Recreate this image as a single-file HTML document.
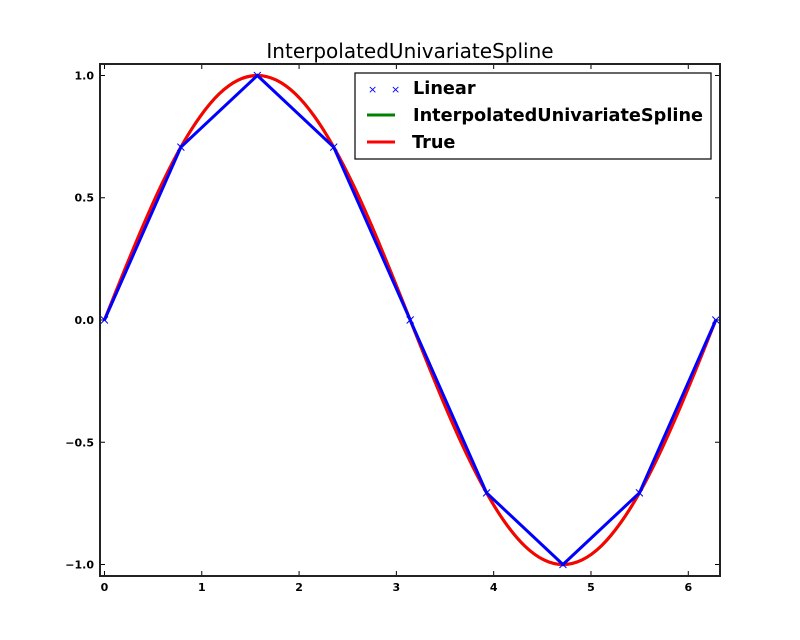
<!DOCTYPE html>
<html><head><meta charset="utf-8"><style>
body{margin:0;background:#fff;}
svg{display:block;font-family:"DejaVu Sans","Liberation Sans",sans-serif;}
</style></head><body>
<svg id="chart" width="800" height="640" xmlns="http://www.w3.org/2000/svg">
<rect width="800" height="640" fill="#fff"/>
<text x="410" y="58" text-anchor="middle" font-size="20">InterpolatedUnivariateSpline</text>
<g id="ticks"></g>
<g id="marks"></g>
<rect x="100" y="64" width="620" height="512" fill="none" stroke="#222" stroke-width="2"/>
<g>
<rect x="355" y="73" width="356" height="86" fill="#fff" stroke="#000" stroke-width="1.2"/>
<g>
<text x="368" y="93" font-size="11" fill="#00f">×</text><text x="391" y="93" font-size="11" fill="#00f">×</text>
<text x="413" y="94" font-size="17.7" font-weight="bold">Linear</text></g>
<g>
<line x1="367" y1="115" x2="395" y2="115" stroke="#008000" stroke-width="3"/>
<text x="413" y="121" font-size="17.7" font-weight="bold">InterpolatedUnivariateSpline</text></g>
<g>
<line x1="367" y1="142" x2="395" y2="142" stroke="#f00" stroke-width="3"/>
<text x="412" y="148" font-size="17.7" font-weight="bold">True</text></g>
</g>
</svg>
<script>
const linX=[0,0.785,1.571,2.356,3.142,3.927,4.712,5.498,6.283];
const linY=[0,0.707,1,0.707,0,-0.707,-1,-0.707,0];
const curveX=[0,0.196,0.393,0.589,0.785,0.982,1.178,1.374,1.571,1.767,1.963,2.160,2.356,2.553,2.749,2.945,3.142,3.338,3.534,3.731,3.927,4.123,4.320,4.516,4.712,4.909,5.105,5.301,5.498,5.694,5.890,6.087,6.283];
const trueY=[0,0.195,0.383,0.556,0.707,0.831,0.924,0.981,1,0.981,0.924,0.831,0.707,0.556,0.383,0.195,0,-0.195,-0.383,-0.556,-0.707,-0.831,-0.924,-0.981,-1,-0.981,-0.924,-0.831,-0.707,-0.556,-0.383,-0.195,0];
const splineY=[0,0.192,0.381,0.555,0.707,0.832,0.925,0.981,1,0.981,0.925,0.832,0.707,0.556,0.383,0.195,0,-0.195,-0.383,-0.556,-0.707,-0.832,-0.925,-0.981,-1,-0.981,-0.925,-0.832,-0.707,-0.555,-0.381,-0.192,0];
const xTicks=[0,1,2,3,4,5,6];
const yTicks=[1.0,0.5,0.0,-0.5,-1.0];
const yTickLabels=["1.0","0.5","0.0","\u22120.5","\u22121.0"];
const X0=100,X1=720,Y0=64,Y1=576,xmin=-0.046,xmax=6.326,ymin=-1.047,ymax=1.047;
const sx=v=>X0+(v-xmin)/(xmax-xmin)*(X1-X0);
const sy=v=>Y1-(v-ymin)/(ymax-ymin)*(Y1-Y0);
const NS="http://www.w3.org/2000/svg";
function mk(t,a,p){const e=document.createElementNS(NS,t);for(const k in a)e.setAttribute(k,a[k]);p.appendChild(e);return e;}
const tg=document.getElementById('ticks'),mg=document.getElementById('marks');
xTicks.forEach(v=>{const x=sx(v);
 const l=mk('path',{d:`M${x},${Y1}v-5M${x},${Y0}v5`,stroke:'#000','stroke-width':1},tg);
 
 
 const t=mk('text',{x:x,y:Y1+15,'text-anchor':'middle','font-size':11,'font-weight':'bold'},tg);t.textContent=String(v);
 
 });
yTicks.forEach((v,i)=>{const y=sy(v);
 const l=mk('path',{d:`M${X0},${y}h5M${X1},${y}h-5`,stroke:'#000','stroke-width':1},tg);
 
 
 const t=mk('text',{x:X0-6,y:y+4,'text-anchor':'end','font-size':11,'font-weight':'bold'},tg);t.textContent=yTickLabels[i];
 
 });
const pts=(xs,ys)=>xs.map((x,i)=>sx(x)+','+sy(ys[i])).join(' ');
function smooth(xs,ys){
 const P=xs.map((x,i)=>[sx(x),sy(ys[i])]);
 let d=`M${P[0][0]},${P[0][1]}`;
 for(let i=0;i<P.length-1;i++){
  const p0=P[Math.max(i-1,0)],p1=P[i],p2=P[i+1],p3=P[Math.min(i+2,P.length-1)];
  const c1=[p1[0]+(p2[0]-p0[0])/6,p1[1]+(p2[1]-p0[1])/6];
  const c2=[p2[0]-(p3[0]-p1[0])/6,p2[1]-(p3[1]-p1[1])/6];
  d+=`C${c1[0]},${c1[1]} ${c2[0]},${c2[1]} ${p2[0]},${p2[1]}`;
 }
 return d;
}
const g=mk('path',{d:smooth(curveX,splineY),fill:'none',stroke:'#008000','stroke-width':3},mg);


const r=mk('path',{d:smooth(curveX,trueY),fill:'none',stroke:'#f00','stroke-width':3},mg);


const b=mk('polyline',{points:pts(linX,linY),fill:'none',stroke:'#00f','stroke-width':3},mg);


linX.forEach((x,i)=>{const cx=sx(x),cy=sy(linY[i]);
 const m=mk('path',{d:`M${cx-3.5},${cy-3.5}l7,7M${cx-3.5},${cy+3.5}l7,-7`,stroke:'#00f','stroke-width':1},mg);
 
 });
</script>
</body></html>
